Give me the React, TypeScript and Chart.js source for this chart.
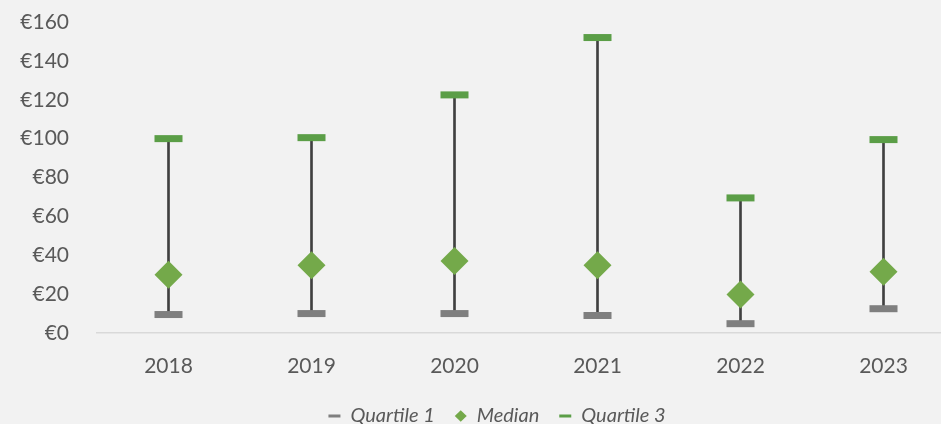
import React, { useEffect, useRef } from "react";
import { Chart, registerables } from "chart.js";

Chart.register(...registerables);

const years = ["2018", "2019", "2020", "2021", "2022", "2023"];
const quartile1 = [9.5, 10, 10, 9, 4.8, 12.5];
const median = [30, 34.8, 37, 34.8, 19.8, 31.5];
const quartile3 = [100, 100.5, 122.5, 152, 69.5, 99.5];
const yTicks = [0, 20, 40, 60, 80, 100, 120, 140, 160];

const GRAY = "#7f7f7f";
const GREEN_Q3 = "#5b9e47";
const GREEN_MED = "#74a94a";
const WHISKER = "#404040";
const TEXT = "#595959";

export default function App() {
  const ref = useRef<HTMLCanvasElement | null>(null);

  useEffect(() => {
    if (!ref.current) return;
    const chart = new Chart(ref.current, {
      type: "bar",
      data: {
        labels: years,
        datasets: [
          {
            type: "bar",
            label: "whisker",
            data: years.map((_, i) => [quartile1[i], quartile3[i]]) as any,
            backgroundColor: WHISKER,
            borderWidth: 0,
            barThickness: 2,
            order: 10,
          } as any,
          {
            type: "line",
            label: "Quartile 1",
            data: quartile1,
            showLine: false,
            pointStyle: "line",
            pointRadius: 14,
            pointBorderWidth: 7,
            pointBorderColor: GRAY,
            pointBackgroundColor: GRAY,
            order: 1,
          },
          {
            type: "line",
            label: "Median",
            data: median,
            showLine: false,
            pointStyle: "rectRot",
            pointRadius: 14,
            pointBorderWidth: 0,
            pointBorderColor: GREEN_MED,
            pointBackgroundColor: GREEN_MED,
            order: 1,
          },
          {
            type: "line",
            label: "Quartile 3",
            data: quartile3,
            showLine: false,
            pointStyle: "line",
            pointRadius: 14,
            pointBorderWidth: 7,
            pointBorderColor: GREEN_Q3,
            pointBackgroundColor: GREEN_Q3,
            order: 1,
          },
        ],
      },
      options: {
        responsive: false,
        animation: false,
        layout: { autoPadding: false, padding: { top: 22, right: 5, left: 0, bottom: -12 } },
        plugins: {
          tooltip: { enabled: false },
          legend: {
            position: "bottom",
            labels: {
              color: TEXT,
              font: { family: "Lato", size: 20, style: "italic" },
              usePointStyle: true,
              pointStyleWidth: 12,
              boxHeight: 8,
              padding: 20,
              generateLabels: () => [
                { text: "Quartile 1", pointStyle: "line", fillStyle: GRAY, strokeStyle: GRAY, lineWidth: 3, hidden: false, datasetIndex: 1, fontColor: TEXT },
                { text: "Median", pointStyle: "rectRot", fillStyle: GREEN_MED, strokeStyle: GREEN_MED, lineWidth: 0, hidden: false, datasetIndex: 2, fontColor: TEXT },
                { text: "Quartile 3", pointStyle: "line", fillStyle: GREEN_Q3, strokeStyle: GREEN_Q3, lineWidth: 3, hidden: false, datasetIndex: 3, fontColor: TEXT },
              ] as any,
            },
          },
        },
        scales: {
          x: {
            offset: true,
            afterFit: (s: any) => { s.height = 53; },
            grid: { display: false, drawTicks: false },
            border: { display: true, color: "#d9d9d9", width: 1.5 },
            ticks: { color: TEXT, font: { family: "Lato", size: 21 }, padding: 21 },
          },
          y: {
            min: 0,
            max: 160,
            afterFit: (s: any) => { s.width = 97; s.paddingTop = 0; s.paddingBottom = 0; },
            afterBuildTicks: (s: any) => { s.ticks = yTicks.map((v) => ({ value: v })); },
            grid: { display: false, drawTicks: false },
            border: { display: false },
            ticks: {
              color: TEXT,
              font: { family: "Lato", size: 21 },
              padding: 28,
              callback: (v: any) => "€" + v,
            },
          },
          ySpacer: {
            type: "linear",
            position: "right",
            min: 0,
            max: 160,
            afterFit: (s: any) => { s.width = 39; s.paddingTop = 0; s.paddingBottom = 0; },
            grid: { display: false, drawTicks: false },
            border: { display: false },
            ticks: { display: false },
          },
        },
      },
    });
    return () => chart.destroy();
  }, []);

  return (
    <div style={{ position: "fixed", left: 0, top: 0, width: 941, height: 424, overflow: "hidden", background: "#f2f2f2" }}>
      <canvas ref={ref} width={999} height={424} style={{ width: 999, height: 424, display: "block" }} />
    </div>
  );
}
